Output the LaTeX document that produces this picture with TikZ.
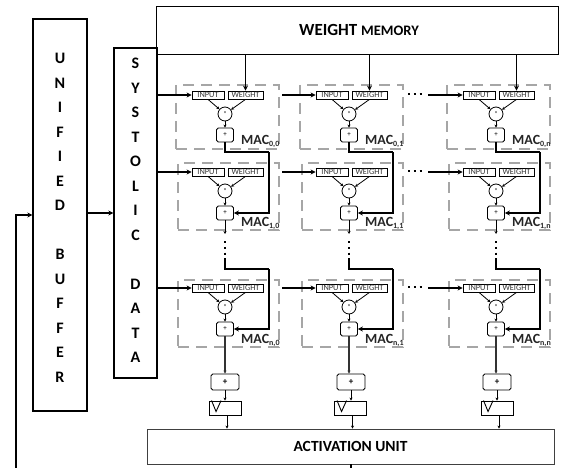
\documentclass[tikz,border=0pt]{standalone}
\usepackage{fontspec}
\setmainfont{Carlito}
\usetikzlibrary{arrows.meta,calc}

\tikzset{
    bigbox/.style={draw, rectangle, line width=1.3pt, inner sep=0pt, font=\bfseries},
    spelled/.style={bigbox, align=center, font=\fontsize{16}{24.5}\selectfont\bfseries},
    macbox/.style={draw=black!35, rectangle, line width=1.2pt, dash pattern=on 11pt off 7pt, inner sep=0pt},
    portbox/.style={draw, rectangle, line width=0.8pt, inner sep=0pt, minimum height=8pt, text=black!80, font=\fontsize{8.3}{8}\selectfont},
    mulnode/.style={draw, circle, line width=0.8pt, inner sep=0pt, minimum size=14pt, font=\fontsize{7}{7}\selectfont},
    addnode/.style={draw, rectangle, rounded corners=1.8pt, line width=0.8pt, inner sep=0pt, minimum width=17pt, minimum height=14pt, font=\fontsize{7}{7}\selectfont},
    sumnode/.style={draw, rectangle, rounded corners=1.8pt, line width=0.9pt, inner sep=0pt, minimum width=28pt, minimum height=16pt, font=\fontsize{9}{9}\selectfont\bfseries},
    regnode/.style={draw, rectangle, line width=0.9pt, inner sep=0pt, minimum width=32pt, minimum height=14pt},
    maclabel/.style={inner sep=0pt, anchor=base west, text=black!85, font=\fontsize{14}{14}\selectfont\bfseries},
    wire/.style={line width=0.8pt, -{Stealth[length=3pt,width=3pt]}},
    feed/.style={line width=1.2pt, -{Stealth[length=5pt,width=5pt]}},
    bus/.style={line width=1.7pt},
    dotrun/.style={line width=1.9pt, dash pattern=on 1.9pt off 3.9pt}
}
\newcommand{\macsub}[1]{\raisebox{-2.5pt}{\fontsize{8}{9}\selectfont #1}}

\begin{document}
\begin{tikzpicture}[x=1pt, y=-1pt, >=Stealth]
    \useasboundingbox (0,0) rectangle (562,468);

    % Outer blocks
    \node[spelled, minimum width=54pt, minimum height=392pt] (buffer) at (60,215)
        {\rule{0pt}{16pt}U\\N\\I\\F\\I\\E\\D\\[24.7pt]B\\U\\F\\F\\E\\R};
    \node[spelled, minimum width=43pt, minimum height=330pt] (systolic) at (135.5,213)
        {S\\Y\\S\\T\\O\\L\\I\\C\\[24.5pt]D\\A\\T\\\rule[-5pt]{0pt}{5pt}A};
    \node[bigbox, line width=0.9pt, minimum width=402pt, minimum height=48pt, font=\fontsize{17}{17}\selectfont\bfseries] (memory) at (357,30)
        {\hspace*{4pt}WEIGHT {\fontsize{14.5}{14.5}\selectfont MEMORY}};
    \node[bigbox, line width=0.9pt, draw=black!75, minimum width=407pt, minimum height=35pt, font=\fontsize{15.5}{15.5}\selectfont\bfseries] (activation) at (350.5,446.5)
        {ACTIVATION UNIT};

    % MAC cells, one row and column at a time
    \foreach \col/\cx/\cn in {0/0/0, 1/124/1, 2/271/n} {
        \foreach \row/\iy/\my/\ay/\by/\bh/\bl/\bw/\ly/\rn in {0/95/114/135/117/64/176/103/144/0, 1/172/191/213/196.5/67/178/101/226/1, 2/288/307/329/313.5/67/178/101/343/n} {
            \node[macbox, minimum width=\bw pt, minimum height=\bh pt] (cell\row\col) at (\cx+\bl+\bw/2,\by) {};
            \node[portbox, minimum width=32pt] (input\row\col) at (\cx+208,\iy) {INPUT};
            \node[portbox, minimum width=35pt] (weight\row\col) at (\cx+245.5,\iy) {WEIGHT};
            \node[mulnode] (mul\row\col) at (\cx+225,\my) {*};
            \node[addnode] (add\row\col) at (\cx+225,\ay) {+};
            \node[maclabel] (mac\row\col) at (\cx+241,\ly) {MAC\macsub{\rn,\cn}};
            \draw[wire] (input\row\col.south) -- (mul\row\col);
            \draw[wire] (weight\row\col.south) -- (mul\row\col);
            \draw[wire] (mul\row\col) -- (add\row\col);
        }
    }

    % Row inputs coming from the systolic data and from the previous column
    \foreach \row/\iy in {0/95, 1/172, 2/288} {
        \coordinate (from\row1) at (282,\iy);
        \coordinate (from\row2) at (428,\iy);
        \coordinate (dotsa\row) at (408,\iy-1);
        \coordinate (dotsb\row) at (423,\iy-1);
        \draw[feed] (systolic.east |- input\row0.west) -- (input\row0.west);
        \draw[feed] (from\row1) -- (input\row1.west);
        \draw[feed] (from\row2) -- (input\row2.west);
        \draw[dotrun] (dotsa\row) -- (dotsb\row);
    }

    % Weights, accumulation loops and the bottom adders
    \foreach \col/\cx/\sx/\rx in {0/0/225/225, 1/124/351/350.5, 2/271/497/497} {
        \coordinate (benda\col) at (\cx+269,152);
        \coordinate (bendb\col) at (\cx+269,269);
        \coordinate (stop\col) at (\cx+225,234);
        \coordinate (dotstop\col) at (\cx+225,241);
        \coordinate (tail\col) at (\cx+225,259);
        \draw[feed, line width=1.7pt] (memory.south -| weight0\col.north) -- (weight0\col.north);
        \draw[bus] (add0\col.south) |- (benda\col);
        \draw[feed, line width=1.7pt] (benda\col) |- (add1\col.east);
        \draw[wire] (add1\col.south) -- (stop\col);
        \draw[dotrun] (dotstop\col) -- (tail\col);
        \draw[bus] (tail\col) |- (bendb\col);
        \draw[feed, line width=1.7pt] (bendb\col) |- (add2\col.east);

        \node[sumnode] (sum\col) at (\sx,382) {+};
        \node[regnode] (reg\col) at (\rx,408) {};
        \draw[line width=0.9pt] (reg\col.north west) ++(3,0) -- ++(4.5,11) -- ++(5,-11);
        \draw[wire, line width=1.1pt, black!80] (add2\col.south) -- (add2\col.south |- sum\col.north);
        \draw[wire] (sum\col.south) -- (sum\col.south |- reg\col.north);
        \draw[wire] ([xshift=2pt]reg\col.south) -- ([xshift=2pt]reg\col.south |- activation.north);
    }

    % Feedback to the unified buffer
    \coordinate (bottom) at (351,468);
    \coordinate (back) at (16,468);
    \draw[bus] (activation.south -| bottom) -- (bottom);
    \draw[feed] (back) |- (buffer.west);
    \draw[feed] (buffer.east |- systolic.west) -- (systolic.west);
\end{tikzpicture}
\end{document}
